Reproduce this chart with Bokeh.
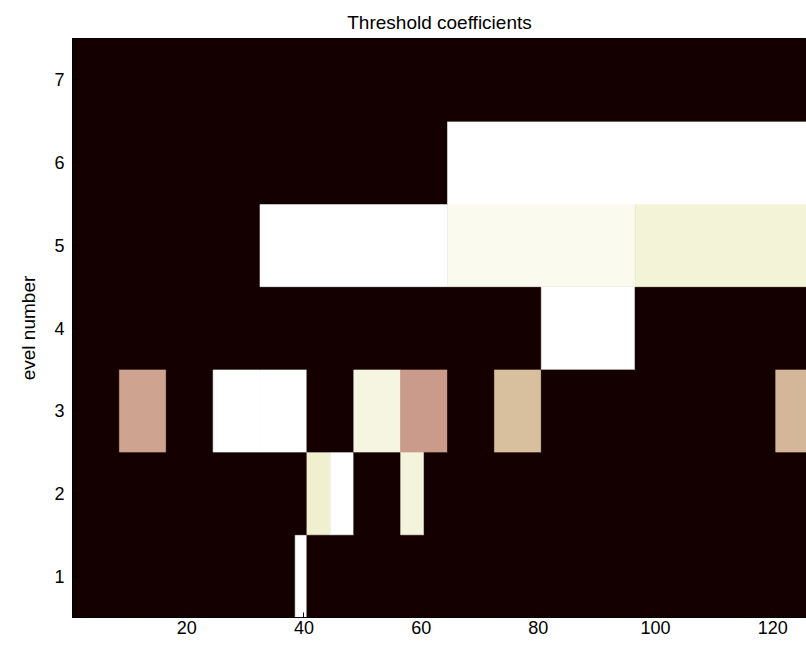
import numpy as np
from bokeh.plotting import figure
from bokeh.models import ColumnDataSource, LinearColorMapper, FixedTicker, Range1d
from bokeh.transform import transform
from bokeh.embed import file_html
from bokeh.resources import INLINE

# Coefficient magnitudes per decomposition level (colormap index 0..63), left to right
level_1 = [0] * 19 + [63] + [0] * 44                      # 64 cells
level_2 = [0] * 10 + [52, 63, 0, 0, 55] + [0] * 17        # 32 cells
level_3 = [0, 30, 0, 63, 63, 0, 56, 28, 0, 36, 0, 0, 0, 0, 0, 34]  # 16 cells
level_4 = [0, 0, 0, 0, 0, 63, 0, 0]                       # 8 cells
level_5 = [0, 63, 59, 54]                                 # 4 cells
level_6 = [0, 63]                                         # 2 cells
level_7 = [0]                                             # 1 cell
levels = [level_1, level_2, level_3, level_4, level_5, level_6, level_7]
n_samples = 128
x_ticks = [20, 40, 60, 80, 100, 120]
y_ticks = [1, 2, 3, 4, 5, 6, 7]

# MATLAB-like "pink" colormap (64 entries)
m = 64
i = np.arange(m)
gray = i / (m - 1)
n = int(3 * m / 8)
hr = np.where(i < n, (i + 1) / n, 1.0)
hg = np.clip((i - n + 1) / n, 0, 1)
hb = np.clip((i - 2 * n + 1) / (m - 2 * n), 0, 1)
cols = np.sqrt((2 * gray[:, None] + np.stack([hr, hg, hb], axis=1)) / 3)
palette = ["#%02x%02x%02x" % tuple(int(round(c * 255)) for c in row) for row in cols]
palette[0] = "#150000"

left, right, bottom, top, val = [], [], [], [], []
for lv, arr in enumerate(levels, start=1):
    w = n_samples / len(arr)
    for k, v in enumerate(arr):
        left.append(0.5 + k * w)
        right.append(0.5 + (k + 1) * w)
        bottom.append(lv - 0.5)
        top.append(lv + 0.5)
        val.append(v)
src = ColumnDataSource(dict(left=left, right=right, bottom=bottom, top=top, val=val))
mapper = LinearColorMapper(palette=palette, low=-0.5, high=63.5)

W, H = 806, 650
ML, MT, MB = 72, 38, 33
p = figure(width=W, height=H, output_backend="svg", toolbar_location=None,
           x_range=Range1d(0.5, 0.5 + (W - ML) / 5.86), y_range=Range1d(0.5, 7.5),
           min_border_left=ML, min_border_right=0, min_border_top=MT, min_border_bottom=MB)
p.quad(left="left", right="right", bottom="bottom", top="top", source=src,
       fill_color=transform("val", mapper), line_color=transform("val", mapper),
       line_width=0.6)

p.background_fill_color = palette[0]
p.border_fill_color = "white"
p.outline_line_color = "black"
p.xgrid.visible = False
p.ygrid.visible = False

p.title.text = "Threshold coefficients"
p.title.align = "center"
p.title.text_font = "Liberation Sans"
p.title.text_font_size = "19px"
p.title.text_font_style = "normal"
p.title.text_color = "black"
p.title.standoff = 11

for ax in (p.xaxis[0], p.yaxis[0]):
    ax.major_label_text_font = "Liberation Sans"
    ax.major_label_text_font_size = "18px"
    ax.major_label_text_color = "black"
    ax.major_tick_in = 5
    ax.major_tick_out = 0
    ax.minor_tick_in = 0
    ax.minor_tick_out = 0
    ax.axis_line_color = "black"
    ax.major_tick_line_color = "black"

p.xaxis.ticker = FixedTicker(ticks=x_ticks)
p.yaxis.ticker = FixedTicker(ticks=y_ticks)
p.xaxis.major_label_standoff = 3
p.yaxis.major_label_standoff = 8
p.yaxis.axis_label = "evel number"
p.yaxis.axis_label_text_font = "Liberation Sans"
p.yaxis.axis_label_text_font_size = "19px"
p.yaxis.axis_label_text_font_style = "normal"
p.yaxis.axis_label_text_color = "black"
p.yaxis.axis_label_standoff = 12

open("out.html", "w").write(file_html(p, INLINE))
